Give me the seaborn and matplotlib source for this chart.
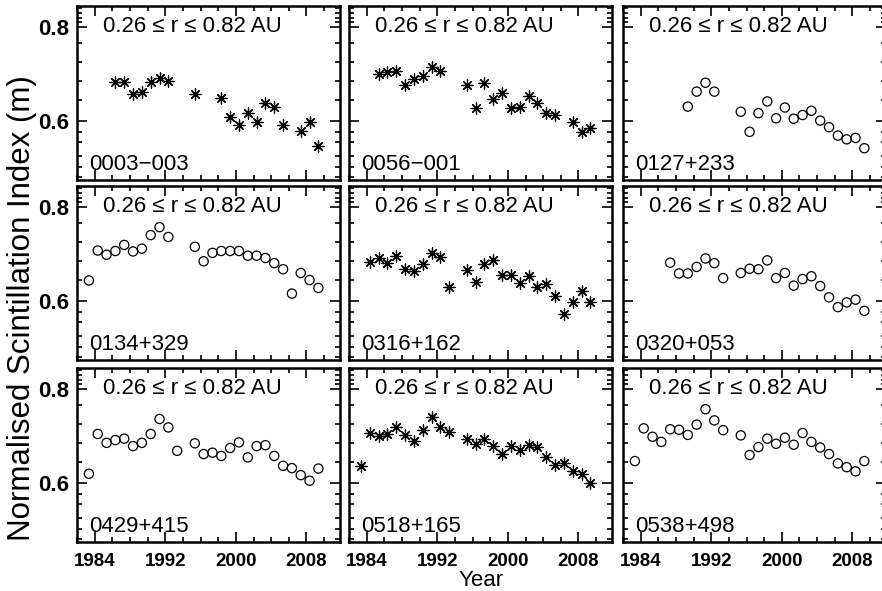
import numpy as np
import pandas as pd
import matplotlib
matplotlib.use("Agg")
import matplotlib.pyplot as plt
import seaborn as sns

# sources, in panel order (row by row)
sources = ["0003\u2212003", "0056\u2212001", "0127+233",
           "0134+329", "0316+162", "0320+053",
           "0429+415", "0518+165", "0538+498"]
markers = ["star", "star", "circle",
           "circle", "star", "circle",
           "circle", "star", "circle"]

# year of observation and normalised scintillation index m
yrs_0003 = [1986, 1987, 1988, 1989, 1990, 1991, 1992, 1995, 1998, 1999, 2000,
            2001, 2002, 2003, 2004, 2005, 2007, 2008, 2009]
m_0003 = [0.682, 0.682, 0.657, 0.662, 0.682, 0.692, 0.684, 0.657, 0.649, 0.607,
          0.591, 0.616, 0.596, 0.637, 0.629, 0.591, 0.578, 0.596, 0.546]

yrs_0056 = [1985, 1986, 1987, 1988, 1989, 1990, 1991, 1992, 1995, 1996, 1997,
            1998, 1999, 2000, 2001, 2002, 2003, 2004, 2005, 2007, 2008, 2009]
m_0056 = [0.700, 0.704, 0.707, 0.677, 0.690, 0.695, 0.714, 0.707, 0.676, 0.628,
          0.680, 0.646, 0.659, 0.628, 0.630, 0.652, 0.637, 0.616, 0.611, 0.596,
          0.576, 0.584]

yrs_0127 = [1989, 1990, 1991, 1992, 1995, 1996, 1997, 1998, 1999, 2000, 2001,
            2002, 2003, 2004, 2005, 2006, 2007, 2008, 2009]
m_0127 = [0.630, 0.662, 0.681, 0.662, 0.619, 0.576, 0.616, 0.641, 0.605, 0.628,
          0.604, 0.612, 0.621, 0.600, 0.586, 0.568, 0.560, 0.563, 0.541]

yrs_0134 = [1983, 1984, 1985, 1986, 1987, 1988, 1989, 1990, 1991, 1992, 1995,
            1996, 1997, 1998, 1999, 2000, 2001, 2002, 2003, 2004, 2005, 2006,
            2007, 2008, 2009]
m_0134 = [0.643, 0.707, 0.698, 0.706, 0.719, 0.705, 0.711, 0.740, 0.757, 0.736,
          0.715, 0.684, 0.702, 0.706, 0.706, 0.706, 0.696, 0.696, 0.691, 0.680,
          0.667, 0.615, 0.659, 0.644, 0.627]

yrs_0316 = [1984, 1985, 1986, 1987, 1988, 1989, 1990, 1991, 1992, 1993, 1995,
            1996, 1997, 1998, 1999, 2000, 2001, 2002, 2003, 2004, 2005, 2006,
            2007, 2008, 2009]
m_0316 = [0.683, 0.691, 0.680, 0.695, 0.667, 0.664, 0.678, 0.701, 0.693, 0.628,
          0.666, 0.639, 0.678, 0.686, 0.654, 0.654, 0.637, 0.652, 0.630, 0.635,
          0.610, 0.572, 0.596, 0.620, 0.596]

yrs_0320 = [1987, 1988, 1989, 1990, 1991, 1992, 1993, 1995, 1996, 1997, 1998,
            1999, 2000, 2001, 2002, 2003, 2004, 2005, 2006, 2007, 2008, 2009]
m_0320 = [0.681, 0.658, 0.658, 0.672, 0.690, 0.680, 0.648, 0.659, 0.668, 0.667,
          0.686, 0.648, 0.659, 0.632, 0.646, 0.652, 0.631, 0.607, 0.586, 0.596,
          0.602, 0.578]

yrs_0429 = [1983, 1984, 1985, 1986, 1987, 1988, 1989, 1990, 1991, 1992, 1993,
            1995, 1996, 1997, 1998, 1999, 2000, 2001, 2002, 2003, 2004, 2005,
            2006, 2007, 2008, 2009]
m_0429 = [0.619, 0.704, 0.685, 0.691, 0.694, 0.678, 0.685, 0.704, 0.736, 0.718,
          0.668, 0.684, 0.661, 0.664, 0.657, 0.674, 0.686, 0.654, 0.678, 0.680,
          0.657, 0.636, 0.631, 0.616, 0.604, 0.630]

yrs_0518 = [1983, 1984, 1985, 1986, 1987, 1988, 1989, 1990, 1991, 1992, 1993,
            1995, 1996, 1997, 1998, 1999, 2000, 2001, 2002, 2003, 2004, 2005,
            2006, 2007, 2008, 2009]
m_0518 = [0.636, 0.705, 0.700, 0.704, 0.718, 0.702, 0.689, 0.712, 0.741, 0.718,
          0.709, 0.693, 0.683, 0.694, 0.679, 0.661, 0.678, 0.669, 0.680, 0.677,
          0.655, 0.638, 0.641, 0.625, 0.618, 0.600]

yrs_0538 = [1983, 1984, 1985, 1986, 1987, 1988, 1989, 1990, 1991, 1992, 1993,
            1995, 1996, 1997, 1998, 1999, 2000, 2001, 2002, 2003, 2004, 2005,
            2006, 2007, 2008, 2009]
m_0538 = [0.646, 0.716, 0.698, 0.687, 0.714, 0.713, 0.702, 0.724, 0.757, 0.733,
          0.712, 0.701, 0.659, 0.676, 0.694, 0.683, 0.696, 0.681, 0.706, 0.687,
          0.675, 0.661, 0.641, 0.633, 0.624, 0.646]

years = [yrs_0003, yrs_0056, yrs_0127, yrs_0134, yrs_0316, yrs_0320,
         yrs_0429, yrs_0518, yrs_0538]
m_index = [m_0003, m_0056, m_0127, m_0134, m_0316, m_0320,
           m_0429, m_0518, m_0538]

range_label = "0.26 \u2264 r \u2264 0.82 AU"
year_ticks = [1984, 1992, 2000, 2008]
m_ticks = [0.6, 0.8]

sns.set_style("ticks")
plt.rcParams["font.family"] = ["Liberation Sans", "DejaVu Sans"]
plt.rcParams["axes.linewidth"] = 1.8
for k in ["text.color", "axes.edgecolor", "axes.labelcolor",
          "xtick.color", "ytick.color"]:
    plt.rcParams[k] = "black"

fig = plt.figure(figsize=(8.82, 5.91), dpi=100)

lefts = [0.0873, 0.3957, 0.7063]
bottoms = [0.6954, 0.3909, 0.0829]
w, h = 0.2982, 0.2944

for i in range(9):
    row, col = divmod(i, 3)
    ax = fig.add_axes([lefts[col], bottoms[row], w, h])
    # observations are centred a little after the start of each year
    df = pd.DataFrame({"year": np.array(years[i]) + 0.35, "m": m_index[i]})
    if markers[i] == "star":
        sns.scatterplot(data=df, x="year", y="m", ax=ax, marker=(8, 2, 0),
                        s=64, color="black", linewidth=0.9)
    else:
        sns.scatterplot(data=df, x="year", y="m", ax=ax, marker="o", s=44,
                        facecolor="none", edgecolor="black", linewidth=0.9)

    ax.set_xlim(1982.1, 2011.8)
    ax.set_ylim(0.473, 0.845)
    ax.set_xticks(year_ticks)
    ax.set_xticks(np.arange(1982, 2012, 2), minor=True)
    ax.set_yticks(m_ticks)
    ax.set_yticks([0.48, 0.50, 0.525, 0.555, 0.575, 0.645, 0.685, 0.725, 0.765,
                   0.81, 0.82, 0.83, 0.84], minor=True)
    ax.tick_params(which="both", direction="in", top=True, right=True,
                   width=1.2, color="black")
    ax.tick_params(which="major", length=7)
    ax.tick_params(which="minor", length=3.5)
    ax.set_xlabel("")
    ax.set_ylabel("")
    if col == 0:
        ax.set_yticklabels(["0.6", "0.8"], fontsize=16, fontweight="bold")
    else:
        ax.set_yticklabels([])
    if row == 2:
        ax.set_xticklabels([str(t) for t in year_ticks], fontsize=13.5,
                           fontweight="bold")
    else:
        ax.set_xticklabels([])
    ax.tick_params(axis="x", pad=8)
    ax.tick_params(axis="y", pad=6)

    ax.text(0.44, 0.88, range_label, transform=ax.transAxes, ha="center",
            va="center", fontsize=16)
    ax.text(0.045, 0.09, sources[i], transform=ax.transAxes, ha="left",
            va="center", fontsize=16)

fig.text(0.025, 0.478, "Normalised Scintillation Index (m)", rotation=90,
         ha="center", va="center", fontsize=22.5)
fig.text(0.545, 0.018, "Year", ha="center", va="center", fontsize=16)

fig.savefig("out.png", dpi=100)
